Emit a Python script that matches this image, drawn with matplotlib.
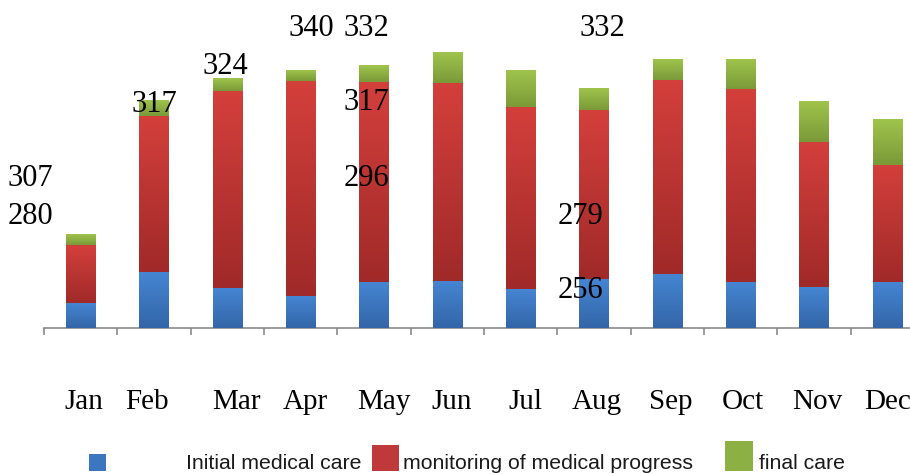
import numpy as np
import matplotlib
matplotlib.use("Agg")
import matplotlib.pyplot as plt
from matplotlib.colors import LinearSegmentedColormap
from matplotlib.patches import Rectangle

# ---- data ----
months = ["Jan", "Feb", "Mar", "Apr", "May", "Jun", "Jul", "Aug", "Sep", "Oct", "Nov", "Dec"]
initial_care = [25, 56, 40, 32, 46, 47, 39, 49, 54, 46, 41, 46]
monitoring = [58, 156, 197, 215, 200, 198, 182, 169, 194, 193, 145, 117]
final_care = [11, 16, 13, 11, 17, 31, 37, 22, 21, 30, 41, 46]
series_names = ["Initial medical care", "monitoring of medical progress", "final care"]

# floating labels seen on the chart
float_labels = ["307", "280", "317", "324", "340", "332", "317", "296", "332", "279", "256"]
float_x = [-0.68, -0.68, 1.01, 1.98, 3.14, 3.90, 3.90, 3.90, 7.12, 6.82, 6.82]
float_y = [150, 112, 223, 262, 300, 300, 225, 150, 300, 112, 38]

# month label positions (slightly offset from bar centres in the original)
month_label_x = [0.04, 0.91, 2.13, 3.06, 4.13, 5.06, 6.07, 7.04, 8.05, 9.03, 10.05, 11.0]

# ---- style ----
W, H = 910, 474
fig = plt.figure(figsize=(W / 100, H / 100), dpi=100)
ax = fig.add_axes([44 / W, (H - 328) / H, 880 / W, 328 / H])

grad = [("#3366a8", "#4585d2"),   # blue bottom, top
        ("#a02a29", "#d33f3b"),   # red
        ("#7a9a38", "#9fc44c")]   # green
solid = ["#3c76c0", "#c0393a", "#8cb043"]

x = np.arange(len(months))
bottom = np.zeros(len(months))
width = 0.4
for vals, (c0, c1), sc in zip([initial_care, monitoring, final_care], grad, solid):
    bars = ax.bar(x, vals, width, bottom=bottom, color=sc, linewidth=0, zorder=2)
    cmap = LinearSegmentedColormap.from_list("g", [c0, c1])
    for b in bars:
        x0, y0 = b.get_x(), b.get_y()
        w, h = b.get_width(), b.get_height()
        im = ax.imshow(np.linspace(0, 1, 64).reshape(-1, 1), cmap=cmap, origin="lower",
                       extent=[x0, x0 + w, y0, y0 + h], aspect="auto", zorder=3,
                       interpolation="bilinear")
        im.set_clip_path(b)
    bottom += np.array(vals)

ax.set_xlim(-0.5, len(months) - 0.5)
ax.set_ylim(0, 328)

for s in ["left", "right", "top"]:
    ax.spines[s].set_visible(False)
ax.spines["bottom"].set_color("#8a8a8a")
ax.spines["bottom"].set_linewidth(1.2)
ax.set_yticks([])

ax.set_xticks(month_label_x)
ax.set_xticklabels(months, family=["Liberation Serif", "DejaVu Serif"], fontsize=21)
ax.tick_params(axis="x", which="major", length=0, pad=44)
ax.set_xticks(np.arange(len(months) + 1) - 0.5, minor=True)
ax.tick_params(axis="x", which="minor", length=5, width=1.2, color="#8a8a8a", direction="out")

for t, xx, yy in zip(float_labels, float_x, float_y):
    ax.text(xx, yy, t, ha="center", va="center", fontsize=22,
            family=["Liberation Serif", "DejaVu Serif"], color="black", zorder=5)

# ---- legend (manual) ----
leg_fam = ["Liberation Sans", "DejaVu Sans"]
patches = [(89, 454, 17, 17), (372, 445, 27, 26), (725, 441, 28, 30)]
texts = [(186, "Initial medical care"), (403, "monitoring of medical progress"), (759, "final care")]
for (px, py, pw, ph), sc, (c0, c1) in zip(patches, solid, grad):
    fig.patches.append(Rectangle((px / W, (H - py - ph) / H), pw / W, ph / H,
                                 transform=fig.transFigure, facecolor=sc, edgecolor="none"))
for (tx, name) in texts:
    fig.text(tx / W, (H - 469) / H, name, ha="left", va="baseline", fontsize=15.3,
             family=leg_fam, color="#1a1a1a")

fig.savefig("out.png", dpi=100)
